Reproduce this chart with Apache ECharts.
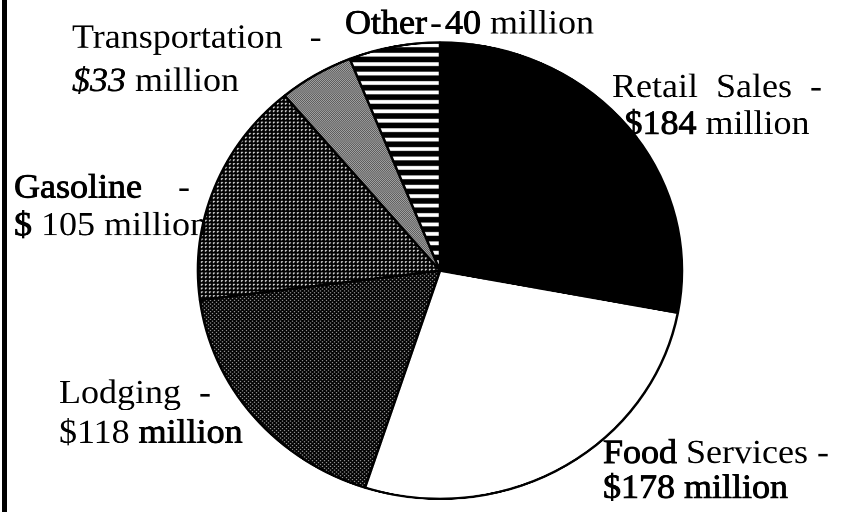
<!DOCTYPE html>
<html>
<head>
<meta charset="utf-8">
<script src="https://cdn.jsdelivr.net/npm/echarts@6/dist/echarts.min.js"></script>
<style>
  html, body { margin: 0; padding: 0; background: #fff; overflow: hidden; width: 853px; height: 512px; }
  /* the printed pie is slightly squat, so the whole figure is compressed vertically */
  #chart { width: 853px; height: 543px; transform: scaleY(0.943); transform-origin: 0 0; }
</style>
</head>
<body>
<div id="chart"></div>
<script>
// Tourism spending by sector, millions of dollars
const categories = ['Retail Sales', 'Food Services', 'Lodging', 'Gasoline', 'Transportation', 'Other'];
const values = [184, 178, 118, 105, 33, 40];

// ---- monochrome fill patterns ----
function tile(w, h, draw) {
  const c = document.createElement('canvas');
  c.width = w; c.height = h;
  const ctx = c.getContext('2d');
  ctx.fillStyle = '#fff';
  ctx.fillRect(0, 0, w, h);
  ctx.fillStyle = '#000';
  draw(ctx);
  return { image: c, repeat: 'repeat' };
}
// dense dark stipple
const darkStipple = tile(4, 4, ctx => {
  ctx.fillRect(0, 0, 4, 4);
  ctx.fillStyle = '#fff';
  ctx.fillRect(0, 0, 1, 1); ctx.fillRect(2, 2, 1, 1);
});
// black with a regular grid of white dots
const dotGrid = tile(4, 4, ctx => {
  ctx.fillRect(0, 0, 4, 4);
  ctx.fillStyle = '#fff';
  ctx.fillRect(1, 1, 2, 1); ctx.fillRect(1, 2, 1, 1);
});
// light 50% checker
const checker = tile(2, 2, ctx => {
  ctx.fillRect(0, 0, 1, 1); ctx.fillRect(1, 1, 1, 1);
});
// horizontal stripes
const stripes = tile(4, 10, ctx => {
  ctx.fillRect(0, 0, 4, 6);
});

const fills = ['#000', '#fff', darkStipple, dotGrid, checker, stripes];

// ---- label text ----
const FONT = '"Liberation Serif", "Times New Roman", Times, serif';
function makeRich(lh) {
  const base = { fontFamily: FONT, fontSize: 36, color: '#000', lineHeight: lh };
  return {
    t: Object.assign({}, base),
    // heavier ink: regular face with a thin outline
    b: Object.assign({}, base, { textBorderColor: '#000', textBorderWidth: 0.9 }),
    i: Object.assign({}, base, { fontStyle: 'italic', textBorderColor: '#000', textBorderWidth: 0.5 })
  };
}
const labelFormats = [
  (n, v) => `{t|${n.replace(' ', '  ')}  -}\n{b|$${v}}{t| million}`,
  (n, v) => `{b|${n.split(' ')[0]}}{t| ${n.split(' ')[1]} -}\n{b|$${v} million}`,
  (n, v) => `{t|${n}  -}\n{t|$${v} }{b|million}`,
  (n, v) => `{b|${n}}{t|    -}\n{b|$}{t| ${v} million}`,
  (n, v) => `{t|${n}   -}\n{i|$${v}}{t| million}`,
  (n, v) => `{b|${n}}{t|\u200A-\u200A}{b|${v}}{t| million}`
];
// label block anchors (chart pixels) and line heights
const labelPos = [
  { x: 717, y: 74, align: 'center', lh: 39 },
  { x: 603, y: 463, align: 'left', lh: 37 },
  { x: 59, y: 397, align: 'left', lh: 42 },
  { x: 14, y: 180, align: 'left', lh: 40 },
  { x: 72, y: 18, align: 'left', lh: 46 },
  { x: 345, y: 8, align: 'left', lh: 36 }
];

const chart = echarts.init(document.getElementById('chart'), null, { renderer: 'canvas', devicePixelRatio: 2 });

chart.setOption({
  animation: false,
  backgroundColor: '#fff',
  graphic: [
    { type: 'rect', left: 2, top: 0, shape: { width: 5, height: 543 }, style: { fill: '#000' }, silent: true }
  ],
  series: [{
    type: 'pie',
    silent: true,
    center: [440, 287],
    radius: 242,
    startAngle: 90,
    clockwise: true,
    avoidLabelOverlap: false,
    itemStyle: { borderColor: '#000', borderWidth: 2.5 },
    label: {
      show: true,
      position: 'outside',
      formatter: p => labelFormats[p.dataIndex](categories[p.dataIndex], values[p.dataIndex])
    },
    labelLine: { show: false },
    labelLayout: p => {
      const q = labelPos[p.dataIndex];
      return { x: q.x, y: q.y, align: q.align, verticalAlign: 'top' };
    },
    data: categories.map((name, i) => ({
      name,
      value: values[i],
      itemStyle: { color: fills[i] },
      label: { rich: makeRich(labelPos[i].lh) }
    }))
  }]
});
</script>
</body>
</html>
